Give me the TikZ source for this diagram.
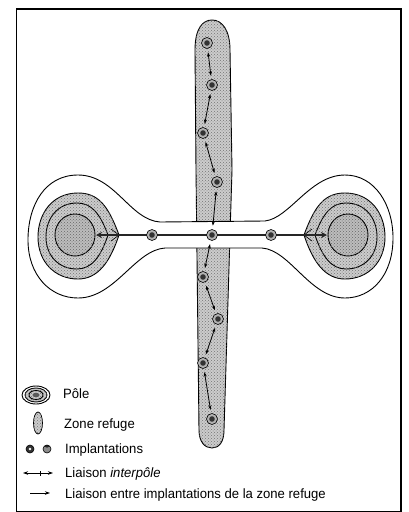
\documentclass[tikz,border=0pt]{standalone}
\usepackage{fontspec}
\setmainfont{Liberation Sans}[FakeStretch=0.97]
\usetikzlibrary{arrows.meta,patterns}
\tikzset{
  stip/.style={fill=black!20, postaction={pattern=crosshatch dots, pattern color=black!55}},
  contour/.style={draw=black, line width=0.9pt},
  imp/.style={circle, draw=black, line width=0.6pt, fill=black!30, minimum size=11pt, inner sep=0pt,
    path picture={\fill[black!80] (path picture bounding box.center) circle (2.8pt);}},
  link/.style={{Stealth[length=4.5pt,width=3.2pt]}-{Stealth[length=4.5pt,width=3.2pt]}, line width=0.8pt, shorten <=3.5pt, shorten >=3.5pt},
  interpole/.style={line width=2.6pt, draw=black!85, {Stealth[length=6pt,width=6pt]}-{Stealth[length=6pt,width=6pt]}},
  lab/.style={anchor=base west, font=\fontsize{13.5}{14}\selectfont, inner sep=0pt},
  polelayers/.pic={
    \draw[contour, stip] (119,235) .. controls (108,205) and (98,193) .. (78,193) .. controls (52,193) and (38,214) .. (38,237) .. controls (38,262) and (55,279) .. (78,279) .. controls (98,279) and (110,262) .. (119,235) -- cycle;
    \draw[contour, stip] (108,235) .. controls (100,214) and (92,203) .. (77,203) .. controls (58,203) and (46,218) .. (46,237) .. controls (46,256) and (59,269) .. (77,269) .. controls (92,269) and (101,256) .. (108,235) -- cycle;
    \draw[contour, fill=black!26, postaction={pattern=crosshatch dots, pattern color=black!60}] (75,235) ellipse (20 and 21);
    \draw[line width=0.6pt] (119,235) -- (111,229) (119,235) -- (111,241);
  }
}
\begin{document}
\begin{tikzpicture}[x=1pt,y=-1pt]
\useasboundingbox (0,0) rectangle (408,512);
\fill[white] (0,0) rectangle (408,512);
% frame
\draw[line width=1.1pt] (16.5,9) rectangle (401,511.5);

% vertical refuge zone
\draw[contour, stip] (195,50) .. controls (195,28) and (203,20) .. (212,20) .. controls (222,20) and (230,30) .. (230,50) -- (232,170) -- (224,430) .. controls (224,442) and (219,448) .. (212,448) .. controls (205,448) and (199,442) .. (199,430) -- (196,170) -- cycle;

% dumbbell (poles and neck)
\draw[contour, fill=white] (160,222) -- (265,221) .. controls (290,218) and (310,175) .. (345,175) .. controls (375,175) and (393,205) .. (393,238) .. controls (393,275) and (372,298) .. (345,298) .. controls (310,298) and (290,250) .. (262,248) -- (165,248) .. controls (135,250) and (115,298) .. (78,298) .. controls (50,298) and (28,275) .. (28,240) .. controls (28,205) and (45,175) .. (78,175) .. controls (115,175) and (130,220) .. (160,222) -- cycle;

\pic at (0,0) {polelayers};
\pic[xscale=-1] at (423,0) {polelayers};

% interpole link
\coordinate (lp) at (96,235);
\coordinate (rp) at (327,235);
\draw[interpole] (lp) -- (rp);

% implantations
\node[imp] (l1) at (152,235) {};
\node[imp] (c) at (212,235) {};
\node[imp] (r1) at (271,235) {};
\node[imp] (v1) at (207,43) {};
\node[imp] (v2) at (212,85) {};
\node[imp] (v3) at (203,133) {};
\node[imp] (v4) at (217,182) {};
\node[imp] (b1) at (203,277) {};
\node[imp] (b2) at (218,319) {};
\node[imp] (b3) at (203,363) {};
\node[imp] (b4) at (212,419) {};

% refuge links
\draw[link] (v1) -- (v2);
\draw[link] (v2) -- (v3);
\draw[link] (v3) -- (v4);
\draw[link] (v4) -- (c);
\draw[link] (c) -- (b1);
\draw[link] (b1) -- (b2);
\draw[link] (b2) -- (b3);
\draw[link] (b3) -- (b4);

% legend
\draw[contour, fill=white] (36,395) ellipse (14 and 9);
\draw[contour, stip] (36,395) ellipse (11 and 7);
\draw[contour, stip] (36,395) ellipse (7 and 4.5);
\fill[black!65] (36,395) ellipse (3.5 and 2.3);
\node[lab] (tpole) at (63,398) {Pôle};

\draw[contour, line width=0.7pt, stip] (38,423) ellipse (4.5 and 11);
\node[lab] (tzone) at (64,428) {Zone refuge};

\node[imp, minimum size=8pt, fill=black!80, path picture={\fill[white] (path picture bounding box.center) circle (1.4pt);}] (li1) at (30,449) {};
\node[imp, minimum size=8pt, fill=black!45, path picture={\fill[black!85] ([yshift=1pt]path picture bounding box.north) circle (3.6pt);}] (li2) at (47,449) {};
\node[lab] (timp) at (65,453) {Implantations};

\coordinate (la1) at (23,473);
\coordinate (la2) at (53,473);
\coordinate (lat) at (40,473);
\draw[line width=1pt, {Stealth[length=5pt,width=3.5pt]}-{Stealth[length=5pt,width=3.5pt]}] (la1) -- (la2);
\draw[line width=0.8pt] ([yshift=-2.5pt]lat) -- ([yshift=2.5pt]lat);
\node[lab] (tinter) at (65,477) {Liaison \textit{interpôle}};

\coordinate (lb1) at (30,493);
\coordinate (lb2) at (50,493);
\draw[line width=1pt, -{Stealth[length=5pt,width=3.5pt]}] (lb1) -- (lb2);
\node[lab] (tentre) at (65,498) {Liaison entre implantations de la zone refuge};
\end{tikzpicture}
\end{document}
